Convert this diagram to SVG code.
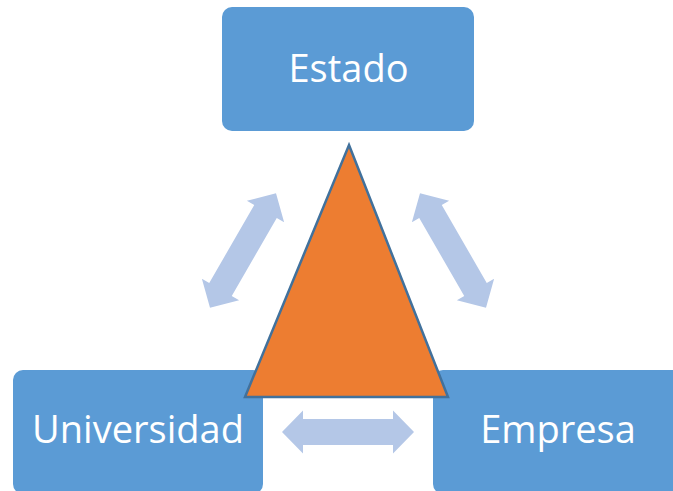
<svg xmlns="http://www.w3.org/2000/svg" width="673" height="491" viewBox="0 0 673 491">
  <defs>
    <style>
      .box { fill: #5B9BD5; }
      .lbl { fill: #FFFFFF; font-family: "Open Sans", "Liberation Sans", sans-serif; font-size: 38px; text-anchor: middle; }
      .arr { fill: #B4C7E7; }
      .tri { fill: #ED7D31; stroke: #41719C; stroke-width: 2.5; stroke-linejoin: miter; }
    </style>
    <polygon id="dbl" points="-66,0 -45,-21.5 -45,-13 45,-13 45,-21.5 66,0 45,21.5 45,13 -45,13 -45,21.5"/>
  </defs>
  <rect width="673" height="491" fill="#FFFFFF"/>
  <g id="estado">
    <rect class="box" x="222" y="7" width="252" height="124" rx="10" ry="10"/>
    <text class="lbl" x="348.5" y="82">Estado</text>
  </g>
  <g id="universidad">
    <rect class="box" x="13" y="370" width="250" height="124" rx="10" ry="10"/>
    <text class="lbl" x="138" y="443">Universidad</text>
  </g>
  <g id="empresa">
    <rect class="box" x="433" y="370" width="252" height="124" rx="10" ry="10"/>
    <text class="lbl" x="558" y="443">Empresa</text>
  </g>
  <g id="connectors">
    <use href="#dbl" class="arr" transform="translate(243,250.5) rotate(-60)"/>
    <use href="#dbl" class="arr" transform="translate(453,250.5) rotate(60)"/>
    <use href="#dbl" class="arr" transform="translate(348,432)"/>
  </g>
  <g id="triangle">
    <polygon class="tri" points="349,145 448,397 245,397"/>
  </g>
</svg>
